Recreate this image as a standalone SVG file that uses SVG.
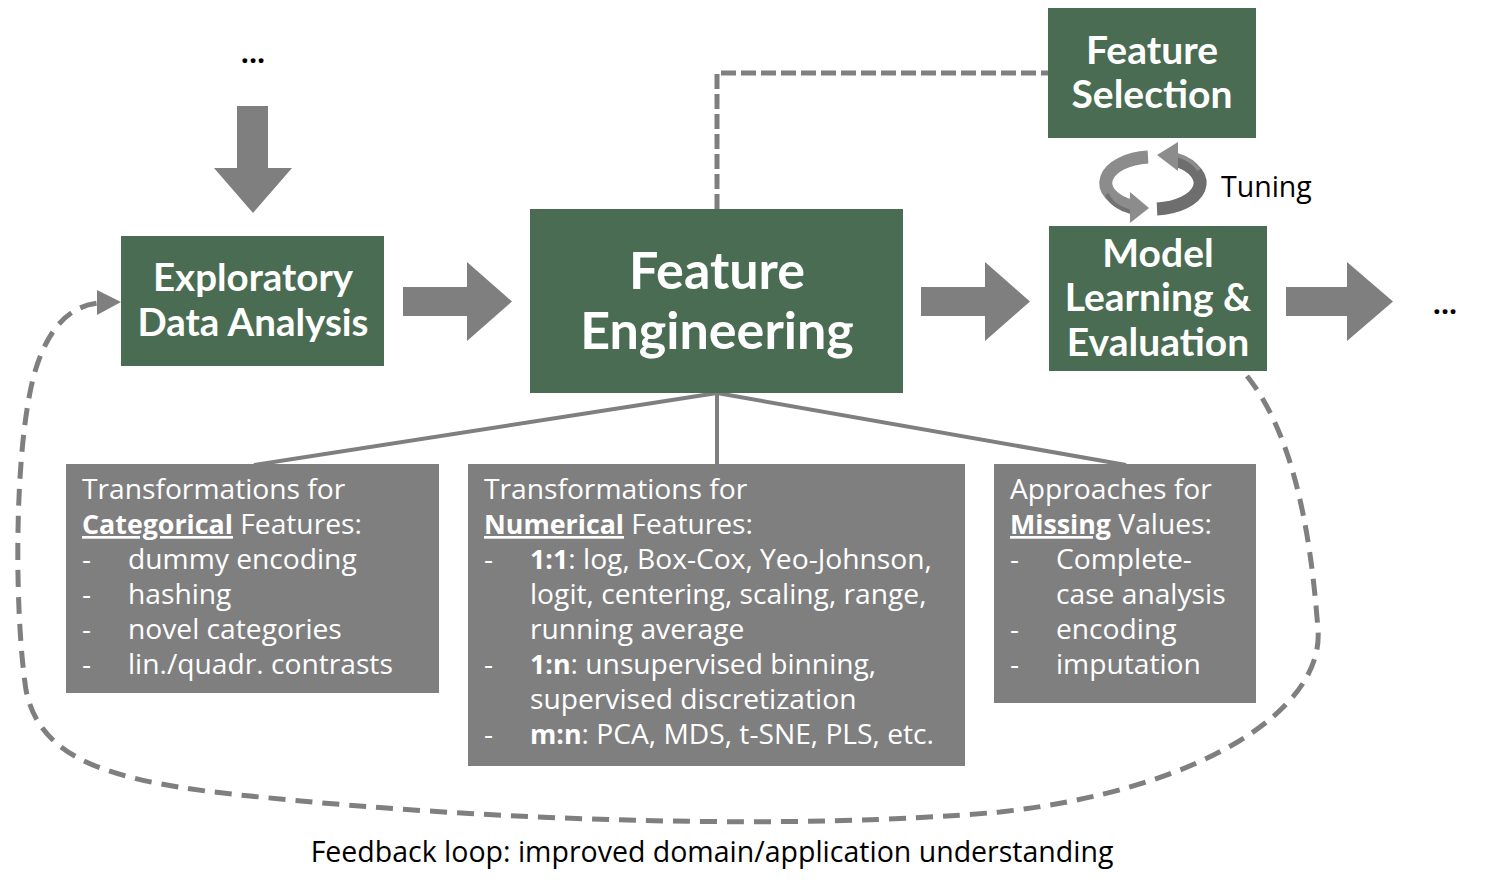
<svg xmlns="http://www.w3.org/2000/svg" width="1492" height="890" viewBox="0 0 1492 890">
  <style>
    .node { fill: #4a6c52; }
    .panel { fill: #7f7f7f; }
    .title { font-family: Lato, "Open Sans", sans-serif; font-weight: bold; fill: #ffffff; text-anchor: middle; }
    .body { font-family: "Open Sans", "Noto Sans", sans-serif; font-size: 28.2px; fill: #ffffff; }
    .body .b { font-weight: bold; font-size: 26.8px; }
    .body .u { font-weight: bold; font-size: 26.8px; text-decoration: underline; }
    .note { font-family: "Open Sans", "Noto Sans", sans-serif; font-size: 28.5px; fill: #000000; }
    .blk { fill: #7f7f7f; }
    .link { stroke: #7f7f7f; stroke-width: 4; fill: none; }
    .dash { stroke: #7f7f7f; stroke-width: 5; fill: none; stroke-dasharray: 15 5; }
    .loop { stroke: #7f7f7f; stroke-width: 5; fill: none; stroke-dasharray: 17 10; }
  </style>

  <!-- block arrows and connectors -->
  <g id="connectors">
    <polygon class="blk" points="237,106 268,106 268,168 292,168 253,213 214,168 237,168"/>
    <polygon class="blk" points="403,287 467,287 467,262 512,301.5 467,341 467,316 403,316"/>
    <polygon class="blk" points="921,287 985,287 985,262 1030,301.5 985,341 985,316 921,316"/>
    <polygon class="blk" points="1286,287 1347,287 1347,262 1393,301.5 1347,341 1347,316 1286,316"/>

    <line class="link" x1="717" y1="393" x2="254" y2="465"/>
    <line class="link" x1="717" y1="393" x2="717" y2="465"/>
    <line class="link" x1="717" y1="393" x2="1126" y2="465"/>

    <path class="dash" d="M717,209 V73 H1048"/>

    <path class="loop" d="M1247,376 C1290,430 1310,520 1318,630 C1324,710 1200,790 1000,812 C800,830 500,822 250,796 C110,782 40,760 26,690 C14,610 14,450 34,375 C48,325 72,305 100,303"/>
    <polygon class="blk" points="97,290 121,302 97,315"/>

    <!-- tuning cycle: two ribbons running round an ellipse -->
    <g id="tuning-cycle">
      <path d="M1148,157.1 A47,26 0 0 0 1131,206" stroke="#8c8c8c" stroke-width="13" fill="none"/>
      <path d="M1107,194 A47,26 0 0 0 1131,212" stroke="#727272" stroke-width="4" fill="none"/>
      <polygon points="1130,192 1149,208 1130,223" fill="#8c8c8c"/>
      <path d="M1157,208.9 A47,26 0 0 0 1177,160.6" stroke="#6e6e6e" stroke-width="13" fill="none"/>
      <path d="M1199,170 A47,26 0 0 0 1177,155" stroke="#8c8c8c" stroke-width="4" fill="none"/>
      <polygon points="1178,142 1157,155 1178,171" fill="#8c8c8c"/>
    </g>
  </g>

  <text class="note" x="253" y="63" text-anchor="middle" font-weight="bold" font-size="26">...</text>
  <text class="note" x="1445" y="314" text-anchor="middle" font-weight="bold" font-size="26">...</text>

  <g id="eda">
    <rect class="node" x="121" y="236" width="263" height="130"/>
    <text class="title" font-size="38.5" x="253" y="291">Exploratory</text>
    <text class="title" font-size="38.5" x="253" y="336">Data Analysis</text>
  </g>

  <g id="feature-engineering">
    <rect class="node" x="530" y="209" width="373" height="184"/>
    <text class="title" font-size="52" x="717" y="289">Feature</text>
    <text class="title" font-size="52" x="717" y="349">Engineering</text>
  </g>

  <g id="feature-selection">
    <rect class="node" x="1048" y="8" width="208" height="130"/>
    <text class="title" font-size="39" x="1152" y="64">Feature</text>
    <text class="title" font-size="39" x="1152" y="108">Selection</text>
  </g>

  <g id="model">
    <rect class="node" x="1049" y="226" width="218" height="145"/>
    <text class="title" font-size="39" x="1158" y="267">Model</text>
    <text class="title" font-size="39" x="1158" y="311">Learning &amp;</text>
    <text class="title" font-size="39" x="1158" y="356">Evaluation</text>
  </g>

  <g id="tuning-label">
    <text class="note" x="1221" y="197">Tuning</text>
  </g>

  <g id="categorical">
    <rect class="panel" x="66" y="464" width="373" height="229"/>
    <text class="body">
      <tspan x="82" y="499">Transformations for</tspan>
      <tspan x="82" y="534"><tspan class="u">Categorical</tspan> Features:</tspan>
      <tspan x="82" y="569">-</tspan><tspan x="128" y="569">dummy encoding</tspan>
      <tspan x="82" y="604">-</tspan><tspan x="128" y="604">hashing</tspan>
      <tspan x="82" y="639">-</tspan><tspan x="128" y="639">novel categories</tspan>
      <tspan x="82" y="674">-</tspan><tspan x="128" y="674">lin./quadr. contrasts</tspan>
    </text>
  </g>

  <g id="numerical">
    <rect class="panel" x="468" y="464" width="497" height="302"/>
    <text class="body">
      <tspan x="484" y="499">Transformations for</tspan>
      <tspan x="484" y="534"><tspan class="u">Numerical</tspan> Features:</tspan>
      <tspan x="484" y="569">-</tspan><tspan x="530" y="569"><tspan class="b">1:1</tspan>: log, Box-Cox, Yeo-Johnson,</tspan>
      <tspan x="530" y="604">logit, centering, scaling, range,</tspan>
      <tspan x="530" y="639">running average</tspan>
      <tspan x="484" y="674">-</tspan><tspan x="530" y="674"><tspan class="b">1:n</tspan>: unsupervised binning,</tspan>
      <tspan x="530" y="709">supervised discretization</tspan>
      <tspan x="484" y="744">-</tspan><tspan x="530" y="744"><tspan class="b">m:n</tspan>: PCA, MDS, t-SNE, PLS, etc.</tspan>
    </text>
  </g>

  <g id="missing">
    <rect class="panel" x="994" y="464" width="262" height="239"/>
    <text class="body">
      <tspan x="1010" y="499">Approaches for</tspan>
      <tspan x="1010" y="534"><tspan class="u">Missing</tspan> Values:</tspan>
      <tspan x="1010" y="569">-</tspan><tspan x="1056" y="569">Complete-</tspan>
      <tspan x="1056" y="604">case analysis</tspan>
      <tspan x="1010" y="639">-</tspan><tspan x="1056" y="639">encoding</tspan>
      <tspan x="1010" y="674">-</tspan><tspan x="1056" y="674">imputation</tspan>
    </text>
  </g>

  <g id="feedback-label">
    <text class="note" x="712" y="862" text-anchor="middle">Feedback loop: improved domain/application understanding</text>
  </g>
</svg>
